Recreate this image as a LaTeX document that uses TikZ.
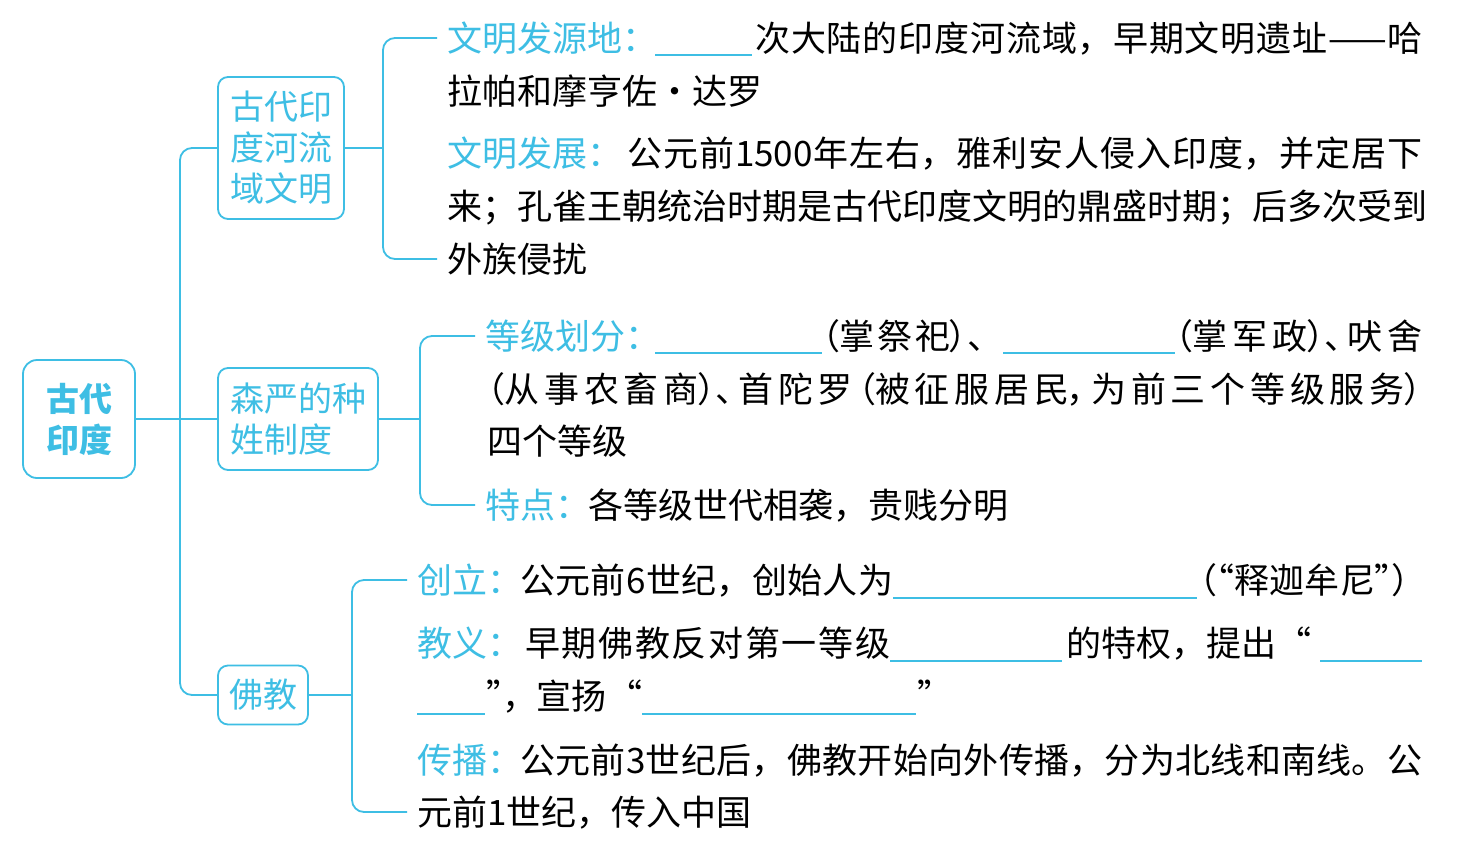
\documentclass[tikz,border=0pt]{standalone}
\usepackage{fontspec}
\newfontfamily\cjk{Noto Sans CJK SC}
\newfontfamily\cjkp[RawFeature=+palt]{Noto Sans CJK SC}
\definecolor{cy}{RGB}{62,190,228}
\newcommand\fillto[2]{\parbox[b]{#1pt}{\parindent0pt\parfillskip0pt\XeTeXlinebreaklocale "zh"\XeTeXlinebreakskip=0pt plus 1fil\XeTeXlinebreakpenalty=10000\relax #2}}
\tikzset{
  conn/.style={draw=cy, line width=1.8pt, rounded corners=12pt},
  ul/.style={draw=cy, line width=1.5pt},
  txt/.style={anchor=base west, inner sep=0pt, font=\cjk\fontsize{35}{42}\selectfont, text=black},
  lab/.style={txt, text=cy},
  boxs/.style={draw=cy, line width=1.8pt, rounded corners=10pt, fill=white, text=cy, inner sep=0pt, font=\cjk\fontsize{34}{41}\selectfont, align=center},
  rootbox/.style={boxs, rounded corners=14pt, font=\cjk\bfseries\fontsize{33}{41}\selectfont}
}
\begin{document}
\begin{tikzpicture}[x=1pt,y=-1pt]
\fill[white] (0,0) rectangle (1467,855);
\useasboundingbox (0,0) rectangle (1467,855);

% boxes
\node[rootbox, minimum width=112pt, minimum height=118pt] (root) at (79,419) {古代\\印度};
\node[boxs, minimum width=126pt, minimum height=142pt] (b1) at (281,148) {古代印\\度河流\\域文明};
\node[boxs, align=left, minimum width=160pt, minimum height=102pt] (b2) at (298,419) {森严的种\\姓制度};
\node[boxs, minimum width=90pt, minimum height=59pt] (b3) at (263,695) {佛教};

% junctions and branch ends
\coordinate (j0) at (180,419);
\coordinate (j1) at (383,148);
\coordinate (e11) at (437,38);
\coordinate (e12) at (437,259);
\coordinate (j2) at (420,419);
\coordinate (e21) at (475,336);
\coordinate (e22) at (475,505);
\coordinate (j3) at (352,695);
\coordinate (e31) at (407,580);
\coordinate (e32) at (407,812);

% connectors
\draw[conn] (root.east) -- (b2.west);
\draw[conn] (j0) |- (b1.west);
\draw[conn] (j0) |- (b3.west);
\draw[conn] (b1.east) -- (j1);
\draw[conn] (j1) |- (e11);
\draw[conn] (j1) |- (e12);
\draw[conn] (b2.east) -- (j2);
\draw[conn] (j2) |- (e21);
\draw[conn] (j2) |- (e22);
\draw[conn] (b3.east) -- (j3);
\draw[conn] (j3) |- (e31);
\draw[conn] (j3) |- (e32);

% branch 1
\node[lab] (t1a) at (447,51) {文明发源地：};
\draw[ul] (655,55) -- (752,55);
\node[txt] (t1b) at (755,51) {\fillto{667}{次大陆的印度河流域，早期文明遗址——哈}};
\node[txt] (t2) at (447,104) {拉帕和摩亨佐·达罗};
\node[lab] (t3a) at (447,166) {文明发展：};
\node[txt] (t3b) at (627,166) {\fillto{795}{公元前1500年左右，雅利安人侵入印度，并定居下}};
\node[txt] (t4) at (447,219) {\fillto{975}{来；孔雀王朝统治时期是古代印度文明的鼎盛时期；后多次受到}};
\node[txt] (t5) at (447,272) {外族侵扰};

% branch 2
\node[lab] (t6a) at (485,349) {等级划分：};
\draw[ul] (655,353) -- (822,353);
\node[txt] (t6b) at (822,349) {\cjkp\fillto{163}{（掌祭祀）、}};
\draw[ul] (1003,353) -- (1175,353);
\node[txt] (t6c) at (1175,349) {\cjkp\fillto{247}{（掌军政）、吠舍}};
\node[txt] (t7) at (487,402) {\cjkp\fillto{935}{（从事农畜商）、首陀罗（被征服居民，为前三个等级服务）}};
\node[txt] (t8) at (487,454) {四个等级};
\node[lab] (t9a) at (485,518) {特点：};
\node[txt] (t9b) at (588,518) {各等级世代相袭，贵贱分明};

% branch 3
\node[lab] (t10a) at (417,593) {创立：};
\node[txt] (t10b) at (520,593) {\fillto{373}{公元前6世纪，创始人为}};
\draw[ul] (893,598) -- (1197,598);
\node[txt] (t10c) at (1199,593) {\cjkp\fillto{211}{（“释迦牟尼”）}};
\node[lab] (t11a) at (417,656) {教义：};
\node[txt] (t11b) at (525,656) {\fillto{365}{早期佛教反对第一等级}};
\draw[ul] (890,661) -- (1062,661);
\node[txt] (t11c) at (1066,656) {的特权，提出“};
\draw[ul] (1320,661) -- (1422,661);
\draw[ul] (417,714) -- (485,714);
\node[txt] (t12a) at (487,709) {\cjkp ”，\hspace{14pt}宣扬\hspace{18pt}“};
\draw[ul] (642,714) -- (916,714);
\node[txt] (t12b) at (918,709) {\cjkp ”};
\node[lab] (t13a) at (417,773) {传播：};
\node[txt] (t13b) at (520,773) {\fillto{902}{公元前3世纪后，佛教开始向外传播，分为北线和南线。公}};
\node[txt] (t14) at (417,825) {元前1世纪，传入中国};
\end{tikzpicture}
\end{document}
